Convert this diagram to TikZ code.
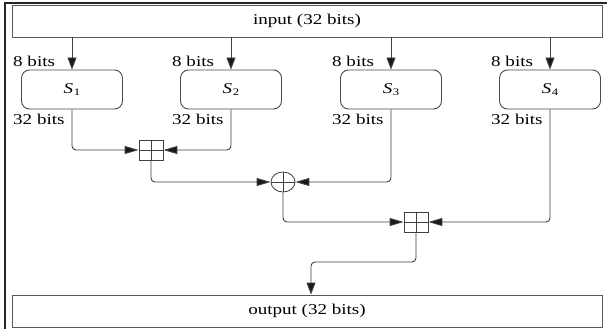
\documentclass[tikz,border=0pt]{standalone}
\usepackage{fontspec}
\setmainfont{Liberation Serif}
\usetikzlibrary{arrows.meta,shapes.geometric}
\newcommand{\hwide}[1]{\scalebox{1.27}[1]{#1}}
\newcommand{\sub}[1]{\textit{S}\kern0.5pt\raisebox{-2.5pt}{\fontsize{10}{12}\selectfont #1}}
\tikzset{
  wire/.style={draw=black!75,line width=0.9pt,rounded corners=4pt},
  harrow/.style={wire,-{Triangle[length=14pt,width=8pt,fill=black!90]}},
  varrow/.style={wire,-{Triangle[length=12pt,width=9pt,fill=black!90]}},
  bigbox/.style={draw=black!65,line width=0.9pt,minimum width=590pt,minimum height=32pt,inner sep=0pt,text=black,font=\fontsize{15}{17}\selectfont},
  sbox/.style={draw=black!70,line width=0.9pt,rounded corners=8pt,minimum width=101pt,minimum height=39pt,inner sep=0pt,text=black,font=\fontsize{15}{17}\selectfont},
  lbl/.style={anchor=west,inner sep=0pt,text=black,font=\fontsize{15}{17}\selectfont},
  addbox/.style={draw=black!75,line width=0.8pt,rectangle,minimum width=24pt,minimum height=20pt,inner sep=0pt,
    path picture={\draw[black!75,line width=0.8pt] (path picture bounding box.north) -- (path picture bounding box.south)
      (path picture bounding box.west) -- (path picture bounding box.east);}},
  xorop/.style={draw=black!75,line width=0.8pt,ellipse,minimum width=24pt,minimum height=20pt,inner sep=0pt,
    path picture={\draw[black!75,line width=0.8pt] (path picture bounding box.north) -- (path picture bounding box.south)
      (path picture bounding box.west) -- (path picture bounding box.east);}}
}
\begin{document}
\begin{tikzpicture}[x=1pt,y=-1pt]
\useasboundingbox (0,0) rectangle (607,329);
\fill[white] (0,0) rectangle (607,329);
% outer frame
\draw[black!85,line width=1.5pt] (5,329) -- (5,3) -- (607,3);
% boxes
\node[bigbox] (inp) at (307,21) {\hwide{input (32 bits)}};
\node[bigbox] (out) at (307,311) {\hwide{output (32 bits)}};
\node[sbox] (S1) at (72,89.5) {\hwide{\sub{1}}};
\node[sbox] (S2) at (231,89.5) {\hwide{\sub{2}}};
\node[sbox] (S3) at (391,89.5) {\hwide{\sub{3}}};
\node[sbox] (S4) at (550,89.5) {\hwide{\sub{4}}};
% labels
\node[lbl] (a1) at (13,61) {\hwide{8 bits}};
\node[lbl] (a2) at (172,61) {\hwide{8 bits}};
\node[lbl] (a3) at (332,61) {\hwide{8 bits}};
\node[lbl] (a4) at (491,61) {\hwide{8 bits}};
\node[lbl] (b1) at (13,119) {\hwide{32 bits}};
\node[lbl] (b2) at (172,119) {\hwide{32 bits}};
\node[lbl] (b3) at (332,119) {\hwide{32 bits}};
\node[lbl] (b4) at (491,119) {\hwide{32 bits}};
% operators
\node[addbox] (add1) at (151,150) {};
\node[xorop] (xor) at (283,182) {};
\node[addbox] (add2) at (416,222) {};
\coordinate (mid) at (311,262);
% connectors
\foreach \s in {S1,S2,S3,S4}{
  \draw[varrow] (\s.north |- inp.south) -- (\s.north);
}
\draw[harrow] (S1.south) |- (add1.west);
\draw[harrow] (S2.south) |- (add1.east);
\draw[harrow] (add1.south) |- (xor.west);
\draw[harrow] (S3.south) |- (xor.east);
\draw[harrow] (xor.south) |- (add2.west);
\draw[harrow] (S4.south) |- (add2.east);
\draw[varrow] (add2.south) |- (mid) -- (mid |- out.north);
\end{tikzpicture}
\end{document}
